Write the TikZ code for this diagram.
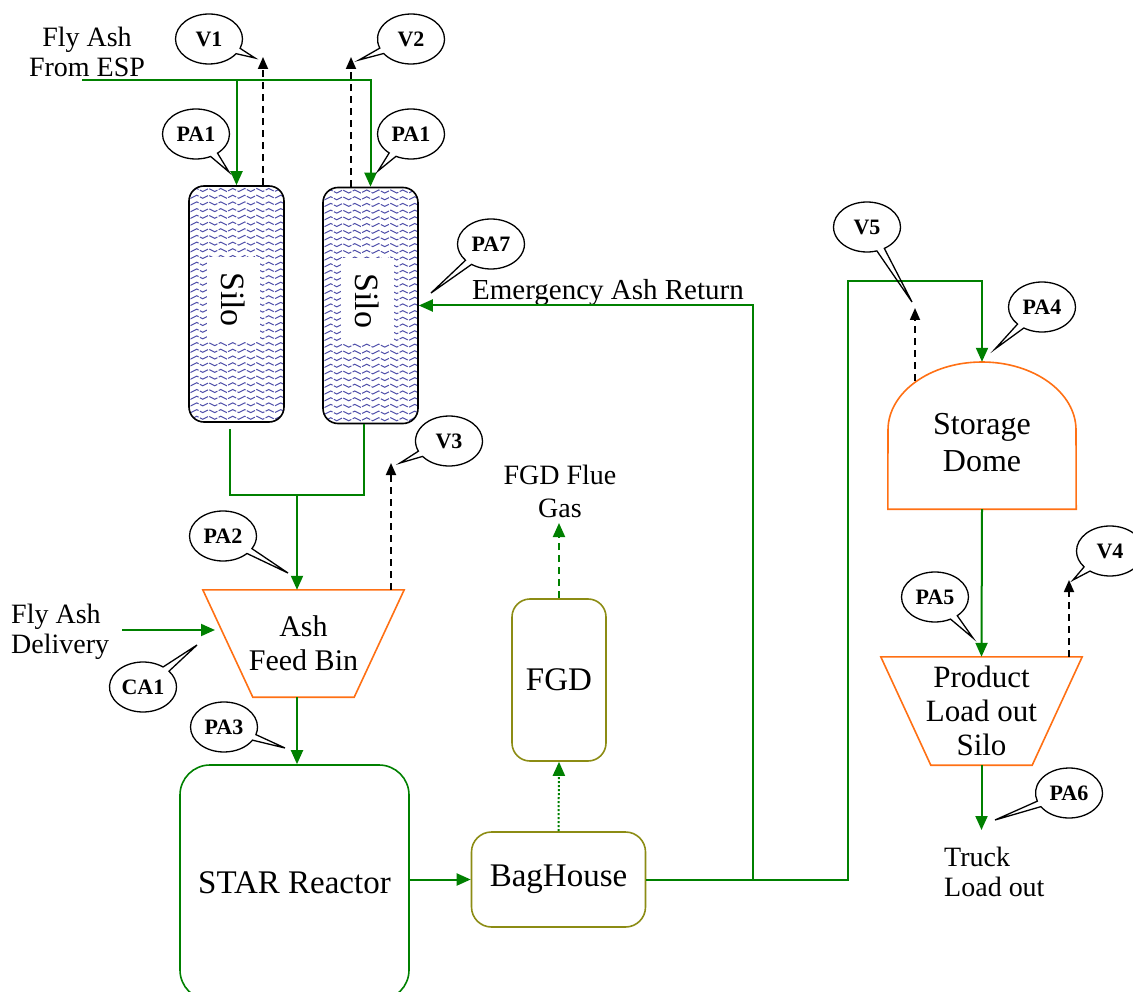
\documentclass[tikz,border=0pt]{standalone}
\usepackage{fontspec}
\setmainfont{Liberation Serif}
\usetikzlibrary{arrows.meta,shapes.callouts,decorations.pathmorphing}

\definecolor{pipegreen}{RGB}{0,128,0}
\definecolor{binorange}{RGB}{255,112,20}
\definecolor{filterolive}{RGB}{140,140,20}
\definecolor{wavyblue}{RGB}{80,80,170}

\begin{document}
\begin{tikzpicture}[
  x=1pt, y=-1pt,
  flow/.style={draw=pipegreen,line width=2pt},
  flowarrow/.style={flow,-{Triangle[length=14pt,width=12pt]}},
  vent/.style={line width=1.8pt,dash pattern=on 7pt off 5pt,-{Triangle[length=12pt,width=10pt]}},
  silo/.style={draw,line width=1.6pt,rounded corners=15pt,minimum width=95pt,minimum height=236pt,
    path picture={\foreach \k in {0,...,35}
      \draw[wavyblue,sharp corners,line width=1pt,dash pattern=on 9pt off 1.5pt,decorate,
            decoration={snake,segment length=12pt,amplitude=1.5pt}]
        ([xshift=-8pt,yshift=-6.7pt*\k-4pt]path picture bounding box.north west) -- ++(115pt,0pt);}},
  silolabel/.style={fill=white,rotate=-90,minimum width=85pt,minimum height=53pt,inner sep=0pt,
    font=\fontsize{34}{38}\selectfont},
  unitbox/.style={draw=pipegreen,line width=1.6pt,rounded corners=30pt,font=\fontsize{33}{38}\selectfont},
  filterbox/.style={draw=filterolive,line width=1.6pt,rounded corners=18pt,font=\fontsize{33}{38}\selectfont},
  binbox/.style={minimum width=201pt,minimum height=107pt,inner sep=0pt,align=center},
  bin/.style={draw=binorange,line width=1.6pt},
  flowtext/.style={inner sep=0pt,font=\fontsize{28}{30}\selectfont},
  tag/.style={ellipse callout,draw,line width=1.3pt,minimum width=67pt,minimum height=50pt,inner sep=0pt,
    callout pointer arc=14,font=\bfseries\fontsize{22}{24}\selectfont}
]
  \useasboundingbox (0,0) rectangle (1133,992);
  \clip (0,0) rectangle (1133,992);

  % silos
  \node[silo] (silo1) at (236.5,304) {};
  \node[silo] (silo2) at (370.5,305.5) {};
  \node[silolabel] (silo1label) at (233,299.5) {Silo};
  \node[silolabel] (silo2label) at (367,301) {Silo};

  % process units
  \node[binbox,font=\fontsize{30}{34}\selectfont] (feedbin) at (303.5,643.5) {Ash\\Feed Bin};
  \draw[bin] (feedbin.north west) -- (feedbin.north east) -- ([xshift=-50]feedbin.south east)
    -- ([xshift=50]feedbin.south west) -- cycle;
  \node[unitbox,minimum width=229pt,minimum height=235pt] (reactor) at (294.5,882.5) {STAR Reactor};
  \node[filterbox,minimum width=174pt,minimum height=95pt,rounded corners=20pt] (baghouse) at (558.5,879.5) {BagHouse};
  \node[filterbox,minimum width=94pt,minimum height=162pt] (fgd) at (559,680) {FGD};

  \node[minimum width=188pt,minimum height=147pt,inner sep=0pt] (dome) at (982,435.5) {};
  \draw[bin] (dome.south west) -- (888,430) arc[start angle=180,end angle=0,x radius=94pt,y radius=68pt]
    -- (dome.south east) -- cycle;
  \node[inner sep=0pt,align=center,font=\fontsize{32}{37}\selectfont] (dometext) at (982,443) {Storage\\Dome};

  \node[binbox,minimum height=108pt,font=\fontsize{31}{34}\selectfont] (product) at (981.5,711) {Product\\Load out\\Silo};
  \draw[bin] (product.north west) -- (product.north east) -- ([xshift=-50]product.south east)
    -- ([xshift=50]product.south west) -- cycle;

  % texts
  \node[flowtext,align=center] (esp) at (87,52) {Fly Ash\\From ESP};
  \node[flowtext,align=left,anchor=west] (delivery) at (11,632) {Fly Ash\\Delivery};
  \node[flowtext,font=\fontsize{29}{30}\selectfont] (emerg) at (608,293) {Emergency Ash Return};
  \node[flowtext,align=center,font=\fontsize{28}{33}\selectfont] (fluegas) at (560,491) {FGD Flue\\Gas};
  \node[flowtext,align=left,anchor=west] (truck) at (944,872) {Truck\\Load out};

  % free ends
  \coordinate (espin) at (82,80);
  \coordinate (join) at (297,495);
  \coordinate (deliv) at (122,630);
  \coordinate (binin) at (215,630);
  \coordinate (split) at (753,879.5);
  \coordinate (riser) at (848,281);
  \coordinate (flueout) at (559,523);
  \coordinate (truckin) at (981.5,830);
  \coordinate (v1out) at (263,57);
  \coordinate (v2out) at (351,57);
  \coordinate (v3out) at (391,463);
  \coordinate (v4out) at (1069,580);
  \coordinate (v5in) at (915,381);
  \coordinate (v5out) at (915,308);

  % ash flows
  \draw[flowarrow] (espin) -| (silo2.north);
  \draw[flowarrow] (silo1.north |- espin) -- (silo1.north);
  \draw[flow] ([shift={(-6.5,6)}]silo1.south) |- ([xshift=-6.5]silo2.south |- join) -- ([xshift=-6.5]silo2.south);
  \draw[flowarrow] (join) -- (feedbin.north -| join);
  \draw[flowarrow] (deliv) -- (binin);
  \draw[flowarrow] (feedbin.south -| join) -- (reactor.north -| join);
  \draw[flowarrow] (reactor.east |- baghouse.west) -- (baghouse.west);
  \draw[flowarrow,dash pattern=on 2pt off 2pt] (baghouse.north) -- (fgd.south);
  \draw[flowarrow,dash pattern=on 7pt off 5pt] (fgd.north) -- (flueout);
  \draw[flow] (baghouse.east) -- (split);
  \draw[flowarrow] (split) |- (silo2.east);
  \draw[flowarrow] (split) -| (riser) -| (dome.north);
  \draw[flowarrow] (dome.south) -- (product.north);
  \draw[flowarrow] (product.south) -- (truckin);

  % vents
  \draw[vent] (silo1.north -| v1out) -- (v1out);
  \draw[vent] (silo2.north -| v2out) -- (v2out);
  \draw[vent] (feedbin.north -| v3out) -- (v3out);
  \draw[vent] (product.north -| v4out) -- (v4out);
  \draw[vent] (v5in) -- (v5out);

  % tags
  \node[tag,callout absolute pointer={(255,58)}] (tagV1) at (209,39) {V1};
  \node[tag,callout absolute pointer={(359,60)}] (tagV2) at (411,39) {V2};
  \node[tag,callout absolute pointer={(229,172)}] (tagPA1a) at (196,134) {PA1};
  \node[tag,callout absolute pointer={(378,171)}] (tagPA1b) at (411,134) {PA1};
  \node[tag,callout absolute pointer={(431,293)}] (tagPA7) at (491,244) {PA7};
  \node[tag,callout absolute pointer={(400,463)}] (tagV3) at (449,441) {V3};
  \node[tag,callout absolute pointer={(288,573)}] (tagPA2) at (223,536) {PA2};
  \node[tag,callout absolute pointer={(197,645)}] (tagCA1) at (143,687) {CA1};
  \node[tag,callout absolute pointer={(285,748)}] (tagPA3) at (224,727) {PA3};
  \node[tag,callout absolute pointer={(912,302)}] (tagV5) at (867,227) {V5};
  \node[tag,callout absolute pointer={(995,349)}] (tagPA4) at (1042,307) {PA4};
  \node[tag,callout absolute pointer={(973,638)}] (tagPA5) at (935,597) {PA5};
  \node[tag,callout absolute pointer={(1073,580)}] (tagV4) at (1110,551) {V4};
  \node[tag,callout absolute pointer={(995,820)}] (tagPA6) at (1069,793) {PA6};
\end{tikzpicture}
\end{document}
